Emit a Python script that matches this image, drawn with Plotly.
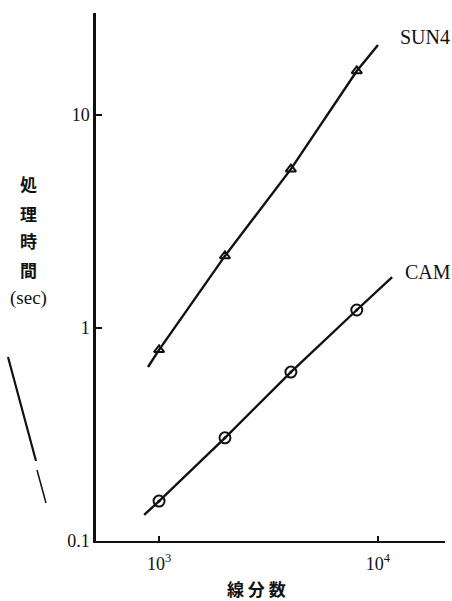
import plotly.graph_objects as go

# ---- data ----
line_counts = [1000, 2000, 4000, 8000]
sun4_times = [0.79, 2.18, 5.57, 16.1]
cam_times = [0.154, 0.305, 0.621, 1.215]

# fitted lines drawn through the measured points (extended ends)
sun4_line_x = [890, 1000, 2000, 4000, 8000, 10000]
sun4_line_y = [0.656, 0.79, 2.18, 5.57, 16.1, 21.3]
cam_line_x = [855, 1000, 2000, 4000, 8000, 11600]
cam_line_y = [0.1325, 0.154, 0.305, 0.621, 1.215, 1.735]

x_tickvals = [1000, 10000]
x_ticktext = ["10<sup>3</sup>", "10<sup>4</sup>"]
y_tickvals = [0.1, 1, 10]
y_ticktext = ["0.1", "1", "10"]

y_title_chars = ["処", "理", "時", "間", "(sec)"]
x_title = "線 分 数"

W, H = 452, 601
L, R, T, B = 96, 7, 13, 60
PW, PH = W - L - R, H - T - B


def px(xp):
    return (xp - L) / PW


def py(yp):
    return (H - B - yp) / PH


serif = "Liberation Serif, Times New Roman, serif"
cjk = "Noto Sans CJK JP, sans-serif"
ink = "#111111"

fig = go.Figure()
fig.add_trace(go.Scatter(x=sun4_line_x, y=sun4_line_y, mode="lines",
                         line=dict(color=ink, width=2.4), showlegend=False,
                         hoverinfo="skip"))
fig.add_trace(go.Scatter(x=cam_line_x, y=cam_line_y, mode="lines",
                         line=dict(color=ink, width=2.4), showlegend=False,
                         hoverinfo="skip"))
fig.add_trace(go.Scatter(x=line_counts, y=sun4_times, mode="markers", name="SUN4",
                         marker=dict(symbol="triangle-up-open", size=9, color=ink,
                                     line=dict(width=2, color=ink)),
                         showlegend=False))
fig.add_trace(go.Scatter(x=line_counts, y=cam_times, mode="markers", name="CAM",
                         marker=dict(symbol="circle-open-dot", size=11, color=ink,
                                     line=dict(width=2, color=ink)),
                         showlegend=False))

annotations = []
# series labels
annotations.append(dict(x=px(398), y=py(37), xref="paper", yref="paper", text="SUN4",
                        showarrow=False, xanchor="left", yanchor="middle",
                        font=dict(family=serif, size=20, color=ink)))
annotations.append(dict(x=px(403), y=py(272), xref="paper", yref="paper", text="CAM",
                        showarrow=False, xanchor="left", yanchor="middle",
                        font=dict(family=serif, size=20, color=ink)))
# vertical y-axis title
y_positions = [183, 213, 241, 269, 298]
for ch, yp in zip(y_title_chars, y_positions):
    is_cjk = not ch.startswith("(")
    annotations.append(dict(x=px(28), y=py(yp), xref="paper", yref="paper", text=ch,
                            showarrow=False, xanchor="center", yanchor="middle",
                            font=dict(family=cjk if is_cjk else serif,
                                      size=17 if is_cjk else 19, color=ink,
                                      weight="bold" if is_cjk else "normal")))
# x-axis title
annotations.append(dict(x=px(256), y=py(588), xref="paper", yref="paper", text=x_title,
                        showarrow=False, xanchor="center", yanchor="middle",
                        font=dict(family=cjk, size=17, color=ink, weight="bold")))

# scan blemish at left edge
shapes = [
    dict(type="line", xref="paper", yref="paper", x0=px(8), y0=py(357), x1=px(36), y1=py(461),
         line=dict(color=ink, width=2.2)),
    dict(type="line", xref="paper", yref="paper", x0=px(37), y0=py(470), x1=px(46), y1=py(503),
         line=dict(color=ink, width=1.5)),
]

fig.update_layout(
    width=W, height=H,
    margin=dict(l=L, r=R, t=T, b=B, pad=0),
    paper_bgcolor="white", plot_bgcolor="white",
    annotations=annotations, shapes=shapes,
    showlegend=False,
)
fig.update_xaxes(type="log", range=[2.712, 4.306], tickvals=x_tickvals, ticktext=x_ticktext,
                 ticks="inside", ticklen=5, tickwidth=1.5, tickcolor=ink,
                 showline=True, linecolor=ink, linewidth=2, showgrid=False, zeroline=False,
                 ticklabelstandoff=5,
                 tickfont=dict(family=serif, size=18, color=ink))
fig.update_yaxes(type="log", range=[-1, 1.479], tickvals=y_tickvals, ticktext=y_ticktext,
                 ticks="inside", ticklen=6, tickwidth=1.5, tickcolor=ink,
                 showline=True, linecolor=ink, linewidth=2.5, showgrid=False, zeroline=False,
                 tickfont=dict(family=serif, size=18, color=ink))

fig.write_html("out.html", config={"displayModeBar": False},
               post_script="document.body.style.margin='0';")
